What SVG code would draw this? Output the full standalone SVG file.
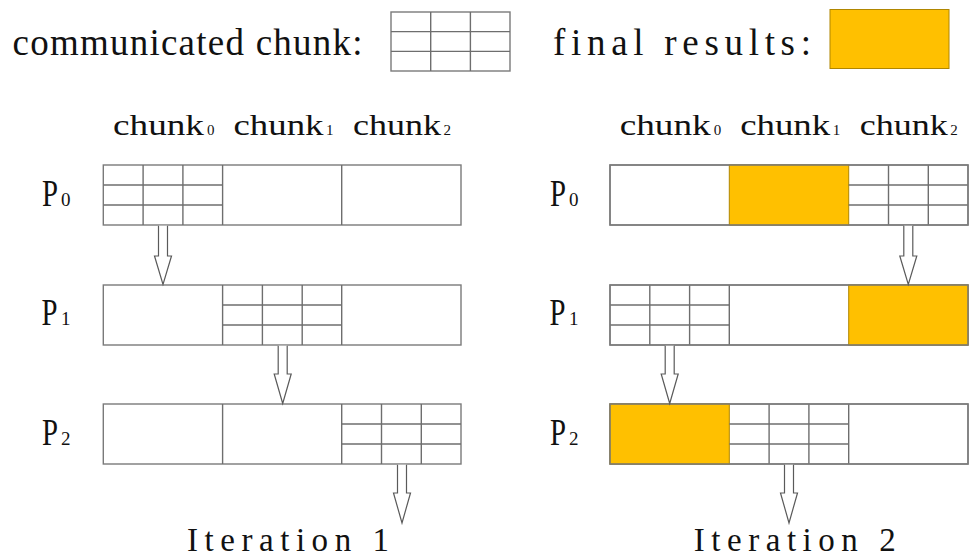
<svg xmlns="http://www.w3.org/2000/svg" xmlns:xlink="http://www.w3.org/1999/xlink" width="971" height="558" viewBox="0 0 971 558">
  <style>
    text { font-family: "Liberation Serif", "DejaVu Serif", serif; fill: #111; }
    .box { fill: #fff; stroke: #7a7a7a; stroke-width: 1.4; }
    .frame { fill: none; stroke: #7a7a7a; stroke-width: 1.4; }
    .line { stroke: #6e6e6e; stroke-width: 1.4; fill: none; }
    .done { fill: #FFC000; stroke: #b08600; stroke-width: 1; }
    .arrow { fill: #fff; stroke: #5a5a5a; stroke-width: 1.2; stroke-linejoin: miter; }
  </style>
  <defs>
    <!-- 3x3 cell grid marking a chunk in transit (119.3 x 60) -->
    <g id="grid">
      <line class="line" x1="39.8" y1="0" x2="39.8" y2="60"/>
      <line class="line" x1="79.6" y1="0" x2="79.6" y2="60"/>
      <line class="line" x1="0" y1="20" x2="119.3" y2="20"/>
      <line class="line" x1="0" y1="40" x2="119.3" y2="40"/>
    </g>
  </defs>

  <!-- legend -->
  <g id="legend-communicated">
    <text x="12.5" y="55" font-size="37" textLength="350" lengthAdjust="spacing">communicated chunk:</text>
    <rect class="box" x="391" y="12" width="119" height="59"/>
    <use xlink:href="#grid" transform="translate(391,12) scale(0.9975,0.983)"/>
  </g>
  <g id="legend-final">
    <text x="553" y="55" font-size="37" textLength="258" lengthAdjust="spacing">final results:</text>
    <rect class="done" x="830" y="9.5" width="119" height="59"/>
  </g>

  <!-- Iteration 1 -->
  <g id="iter1-headers">
    <text x="113" y="134.5" font-size="30" textLength="91" lengthAdjust="spacingAndGlyphs">chunk</text>
    <text x="207" y="135" font-size="15">0</text>
    <text x="233.5" y="134.5" font-size="30" textLength="90" lengthAdjust="spacingAndGlyphs">chunk</text>
    <text x="326" y="135" font-size="15">1</text>
    <text x="353" y="134.5" font-size="30" textLength="88" lengthAdjust="spacingAndGlyphs">chunk</text>
    <text x="443.5" y="135" font-size="15">2</text>
  </g>

  <g id="iter1-p0">
    <text y="206"><tspan x="42" font-size="38" textLength="16" lengthAdjust="spacingAndGlyphs">P</tspan><tspan x="61" font-size="19">0</tspan></text>
    <rect class="box" x="103.3" y="165" width="357.7" height="60"/>
    <use xlink:href="#grid" transform="translate(103.3,165)"/>
    <line class="line" x1="222.6" y1="165" x2="222.6" y2="225"/>
    <line class="line" x1="341.7" y1="165" x2="341.7" y2="225"/>
  </g>
  <g id="iter1-p1">
    <text y="325"><tspan x="41.5" font-size="38" textLength="16" lengthAdjust="spacingAndGlyphs">P</tspan><tspan x="61" font-size="19">1</tspan></text>
    <rect class="box" x="103.3" y="285" width="357.7" height="60"/>
    <use xlink:href="#grid" transform="translate(222.6,285)"/>
    <line class="line" x1="222.6" y1="285" x2="222.6" y2="345"/>
    <line class="line" x1="341.7" y1="285" x2="341.7" y2="345"/>
  </g>
  <g id="iter1-p2">
    <text y="445"><tspan x="42" font-size="38" textLength="16" lengthAdjust="spacingAndGlyphs">P</tspan><tspan x="61" font-size="19">2</tspan></text>
    <rect class="box" x="103.3" y="404" width="357.7" height="60"/>
    <use xlink:href="#grid" transform="translate(341.7,404)"/>
    <line class="line" x1="222.6" y1="404" x2="222.6" y2="464"/>
    <line class="line" x1="341.7" y1="404" x2="341.7" y2="464"/>
  </g>
  <g id="iter1-title">
    <text x="187" y="550.5" font-size="33" textLength="202" lengthAdjust="spacing">Iteration 1</text>
  </g>

  <!-- Iteration 2 -->
  <g id="iter2-headers">
    <text x="619.7" y="134.5" font-size="30" textLength="91" lengthAdjust="spacingAndGlyphs">chunk</text>
    <text x="713.7" y="135" font-size="15">0</text>
    <text x="740.2" y="134.5" font-size="30" textLength="90" lengthAdjust="spacingAndGlyphs">chunk</text>
    <text x="832.7" y="135" font-size="15">1</text>
    <text x="859.7" y="134.5" font-size="30" textLength="88" lengthAdjust="spacingAndGlyphs">chunk</text>
    <text x="950.2" y="135" font-size="15">2</text>
  </g>

  <g id="iter2-p0">
    <text y="206"><tspan x="550" font-size="38" textLength="16" lengthAdjust="spacingAndGlyphs">P</tspan><tspan x="569" font-size="19">0</tspan></text>
    <rect class="box" x="610" y="165" width="358" height="60"/>
    <rect class="done" x="729.3" y="165" width="119.4" height="60"/>
    <use xlink:href="#grid" transform="translate(848.7,165)"/>
    <rect class="frame" x="610" y="165" width="358" height="60"/>
  </g>
  <g id="iter2-p1">
    <text y="325"><tspan x="549.5" font-size="38" textLength="16" lengthAdjust="spacingAndGlyphs">P</tspan><tspan x="569" font-size="19">1</tspan></text>
    <rect class="box" x="610" y="285" width="358" height="60"/>
    <use xlink:href="#grid" transform="translate(610,285)"/>
    <line class="line" x1="729.3" y1="285" x2="729.3" y2="345"/>
    <rect class="done" x="848.7" y="285" width="119.3" height="60"/>
    <rect class="frame" x="610" y="285" width="358" height="60"/>
  </g>
  <g id="iter2-p2">
    <text y="445"><tspan x="550" font-size="38" textLength="16" lengthAdjust="spacingAndGlyphs">P</tspan><tspan x="569" font-size="19">2</tspan></text>
    <rect class="box" x="610" y="404" width="358" height="60"/>
    <rect class="done" x="610" y="404" width="119.3" height="60"/>
    <use xlink:href="#grid" transform="translate(729.3,404)"/>
    <line class="line" x1="848.7" y1="404" x2="848.7" y2="464"/>
    <rect class="frame" x="610" y="404" width="358" height="60"/>
  </g>
  <g id="iter2-title">
    <text x="693.7" y="550.5" font-size="33" textLength="202" lengthAdjust="spacing">Iteration 2</text>
  </g>

  <!-- hollow block arrows: chunk sent to the next process -->
  <g id="connectors">
    <path class="arrow" d="M158.5,225.8 V256 H154.5 L163,284.5 L171.5,256 H167.5 V225.8"/>
    <path class="arrow" d="M278.2,345.8 V374 H274.2 L282.7,403.5 L291.2,374 H287.2 V345.8"/>
    <path class="arrow" d="M397.5,464.8 V493 H393.5 L402,523 L410.5,493 H406.5 V464.8"/>
    <path class="arrow" d="M903.8,225.8 V256 H899.8 L908.3,284.5 L916.8,256 H912.8 V225.8"/>
    <path class="arrow" d="M665.2,345.8 V374 H661.2 L669.7,403.5 L678.2,374 H674.2 V345.8"/>
    <path class="arrow" d="M784.5,464.8 V493 H780.5 L789,523 L797.5,493 H793.5 V464.8"/>
  </g>
</svg>
